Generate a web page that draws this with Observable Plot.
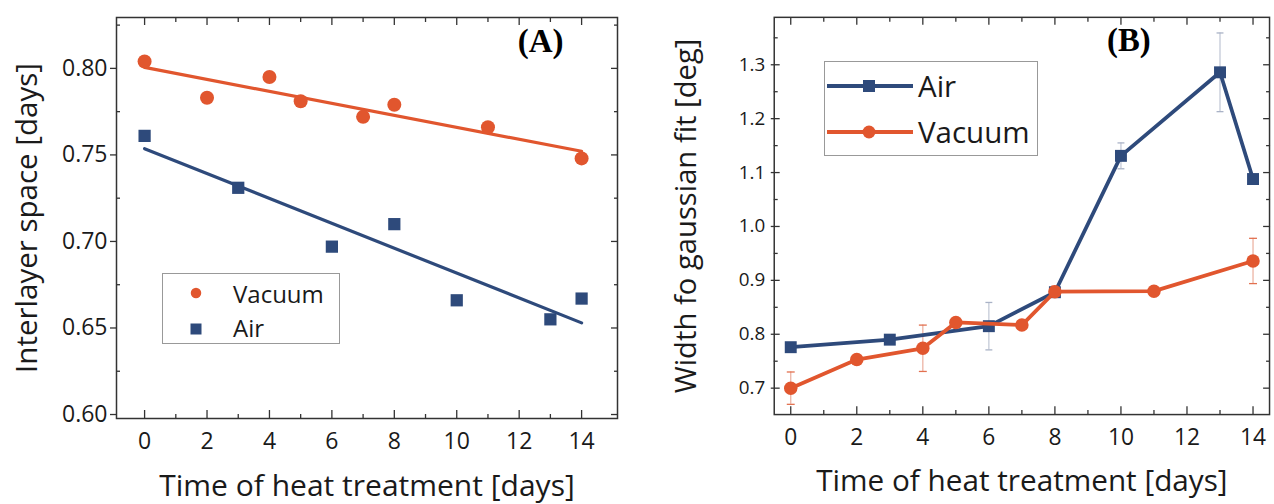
<!DOCTYPE html>
<html><head><meta charset="utf-8">
<script src="https://cdn.jsdelivr.net/npm/d3@7"></script>
<script src="https://cdn.jsdelivr.net/npm/@observablehq/plot@0.6"></script>
<style>
html,body{margin:0;padding:0;background:#fff;overflow:hidden;}
#wrap{position:relative;width:1274px;height:504px;overflow:hidden;}
.panel{position:absolute;top:0;}
.legend{position:absolute;}
</style></head>
<body><div id="wrap"></div>
<script>
// ---------- data ----------
const daysVacA = [0, 2, 4, 5, 7, 8, 11, 14];
const spaceVacA = [0.804, 0.783, 0.795, 0.781, 0.772, 0.779, 0.766, 0.748];
const daysAirA = [0, 3, 6, 8, 10, 13, 14];
const spaceAirA = [0.761, 0.731, 0.697, 0.710, 0.666, 0.655, 0.667];

const daysAirB = [0, 3, 6, 8, 10, 13, 14];
const widthAirB = [0.776, 0.790, 0.815, 0.878, 1.131, 1.286, 1.088];
const errAirB = [0, 0, 0.044, 0, 0.024, 0.073, 0];
const daysVacB = [0, 2, 4, 5, 7, 8, 11, 14];
const widthVacB = [0.700, 0.753, 0.774, 0.822, 0.817, 0.879, 0.880, 0.936];
const errVacB = [0.030, 0, 0.043, 0, 0, 0.010, 0, 0.042];

const xTicksMajor = [0, 2, 4, 6, 8, 10, 12, 14];
const xTicksMinor = [1, 3, 5, 7, 9, 11, 13];
const yTicksA = [0.60, 0.65, 0.70, 0.75, 0.80];
const yMinorA = [0.625, 0.675, 0.725, 0.775, 0.825];
const yTicksB = [0.7, 0.8, 0.9, 1.0, 1.1, 1.2, 1.3];
const yMinorB = [0.75, 0.85, 0.95, 1.05, 1.15, 1.25, 1.35];

const seriesNames = ["Vacuum", "Air"];
const xTitle = "Time of heat treatment [days]";
const yTitleA = "Interlayer space [days]";
const yTitleB = "Width fo gaussian fit [deg]";
const panelLabels = ["(A)", "(B)"];

// ---------- styles ----------
const ORANGE = "#E1562E";
const NAVY = "#2E4A7B";
const INK = "#1a1a1a";
const FRAME = "#333";
const FONT = '"Open Sans", sans-serif';

const vacA = daysVacA.map((d, i) => ({day: d, v: spaceVacA[i]}));
const airA = daysAirA.map((d, i) => ({day: d, v: spaceAirA[i]}));
const airB = daysAirB.map((d, i) => ({day: d, v: widthAirB[i], e: errAirB[i]}));
const vacB = daysVacB.map((d, i) => ({day: d, v: widthVacB[i], e: errVacB[i]}));

const cap = (w) => ({draw(ctx) { ctx.moveTo(-w, 0); ctx.lineTo(w, 0); }});

function tickMarks({leftMajor, leftMinor, fmt, yTickFont}) {
  const tk = {stroke: FRAME, strokeWidth: 1.3, tickFormat: () => "", label: null};
  return [
    Plot.axisX({...tk, anchor: "bottom", ticks: xTicksMajor, tickSize: 8, dy: -8}),
    Plot.axisX({...tk, anchor: "bottom", ticks: xTicksMinor, tickSize: 4, dy: -4}),
    Plot.axisX({...tk, anchor: "top", ticks: xTicksMajor, tickSize: 7, dy: 7}),
    Plot.axisX({...tk, anchor: "top", ticks: xTicksMinor, tickSize: 4, dy: 4}),
    Plot.axisY({...tk, anchor: "left", ticks: leftMajor.ticks, tickSize: leftMajor.size, dx: leftMajor.dx}),
    Plot.axisY({...tk, anchor: "left", ticks: leftMinor, tickSize: 4, dx: 4}),
    Plot.axisY({...tk, anchor: "right", ticks: leftMajor.ticks, tickSize: 7, dx: -7}),
    Plot.axisY({...tk, anchor: "right", ticks: leftMinor, tickSize: 4, dx: -4}),
    Plot.axisX({anchor: "bottom", ticks: xTicksMajor, tickSize: 0, tickPadding: 14, fontSize: 23, fill: INK, label: null}),
    Plot.axisY({anchor: "left", ticks: leftMajor.ticks, tickSize: 0, tickPadding: 9, fontSize: yTickFont, fill: INK, tickFormat: d3.format(fmt), label: null}),
    Plot.frame({stroke: FRAME, strokeWidth: 1.5})
  ];
}

function titles(yTitle, panelLabel, labDx) {
  return [
    Plot.text([xTitle], {text: d => d, frameAnchor: "bottom", textAnchor: "middle", dy: 77, lineAnchor: "bottom", fontSize: 30, fill: INK}),
    Plot.text([yTitle], {text: d => d, frameAnchor: "left", textAnchor: "middle", dx: -100, rotate: -90, lineAnchor: "top", fontSize: 29.5, fill: INK}),
    Plot.text([panelLabel], {text: d => d, frameAnchor: "top-right", dx: labDx, dy: 11, lineAnchor: "top", textAnchor: "end",
      fontFamily: '"Liberation Serif", "Times New Roman", serif', fontWeight: "bold", fontSize: 33, fill: "#000"})
  ];
}

const style = {fontFamily: FONT, fontSize: "23px", color: INK, background: "transparent", overflow: "visible"};

const chartA = Plot.plot({
  width: 640, height: 504,
  marginLeft: 116, marginRight: 23, marginTop: 17, marginBottom: 86,
  x: {domain: [-0.9, 15.15]},
  y: {domain: [0.5977, 0.8294]},
  style,
  marks: [
    Plot.linearRegressionY(vacA, {x: "day", y: "v", stroke: ORANGE, strokeWidth: 3.2, ci: 0}),
    Plot.linearRegressionY(airA, {x: "day", y: "v", stroke: NAVY, strokeWidth: 3.2, ci: 0}),
    Plot.dot(vacA, {x: "day", y: "v", r: 7, fill: ORANGE, symbol: "circle"}),
    Plot.dot(airA, {x: "day", y: "v", r: 6.9, fill: NAVY, symbol: "square"}),
    ...tickMarks({leftMajor: {ticks: yTicksA, size: 6, dx: 0}, leftMinor: yMinorA, fmt: ".2f", yTickFont: 23}),
    ...titles(yTitleA, panelLabels[0], -54)
  ]
});

const airErr = airB.filter(d => d.e > 0);
const vacErr = vacB.filter(d => d.e > 0);
const chartB = Plot.plot({
  width: 640, height: 504,
  marginLeft: 135, marginRight: 5, marginTop: 17, marginBottom: 86,
  x: {domain: [-0.5, 14.5]},
  y: {domain: [0.651, 1.388]},
  style,
  marks: [
    Plot.ruleX(airErr, {x: "day", y1: d => d.v - d.e, y2: d => d.v + d.e, stroke: "#c3c9d7", strokeWidth: 1.3}),
    Plot.dot(airErr, {x: "day", y: d => d.v + d.e, symbol: cap(3.5), r: 4, stroke: "#a9b2c6", fill: "none", strokeWidth: 1.3}),
    Plot.dot(airErr, {x: "day", y: d => d.v - d.e, symbol: cap(3.5), r: 4, stroke: "#a9b2c6", fill: "none", strokeWidth: 1.3}),
    Plot.ruleX(vacErr, {x: "day", y1: d => d.v - d.e, y2: d => d.v + d.e, stroke: "#ecb3a3", strokeWidth: 1.3}),
    Plot.dot(vacErr, {x: "day", y: d => d.v + d.e, symbol: cap(4), r: 4, stroke: "#e2704f", fill: "none", strokeWidth: 1.3}),
    Plot.dot(vacErr, {x: "day", y: d => d.v - d.e, symbol: cap(4), r: 4, stroke: "#e2704f", fill: "none", strokeWidth: 1.3}),
    Plot.line(airB, {x: "day", y: "v", stroke: NAVY, strokeWidth: 3.8}),
    Plot.dot(airB, {x: "day", y: "v", r: 6.8, fill: NAVY, symbol: "square"}),
    Plot.line(vacB, {x: "day", y: "v", stroke: ORANGE, strokeWidth: 3.8}),
    Plot.dot(vacB, {x: "day", y: "v", r: 6.8, fill: ORANGE, symbol: "circle"}),
    ...tickMarks({leftMajor: {ticks: yTicksB, size: 9, dx: 6}, leftMinor: yMinorB, fmt: ".1f", yTickFont: 19}),
    ...titles(yTitleB, panelLabels[1], -120)
  ]
});

const wrap = document.getElementById("wrap");
const pA = document.createElement("div"); pA.className = "panel"; pA.style.left = "0px"; pA.appendChild(chartA);
const pB = document.createElement("div"); pB.className = "panel"; pB.style.left = "640px"; pB.appendChild(chartB);
wrap.appendChild(pA); wrap.appendChild(pB);

// ---------- legends ----------
function legend(left, top, w, h, rows, withLine, fontSize) {
  const svg = d3.select(wrap).append("svg").attr("class", "legend")
    .style("left", left + "px").style("top", top + "px")
    .attr("width", w).attr("height", h);
  svg.append("rect").attr("x", 0.5).attr("y", 0.5).attr("width", w - 1).attr("height", h - 1)
    .attr("fill", "#fff").attr("stroke", "#999").attr("stroke-width", 1);
  rows.forEach(r => {
    if (withLine) svg.append("line").attr("x1", r.lx1).attr("x2", r.lx2).attr("y1", r.cy).attr("y2", r.cy)
      .attr("stroke", r.color).attr("stroke-width", 3.8);
    if (r.sym === "circle") svg.append("circle").attr("cx", r.cx).attr("cy", r.cy).attr("r", r.size / 2).attr("fill", r.color);
    else svg.append("rect").attr("x", r.cx - r.size / 2).attr("y", r.cy - r.size / 2).attr("width", r.size).attr("height", r.size).attr("fill", r.color);
    svg.append("text").attr("x", r.tx).attr("y", r.ty).text(r.name)
      .attr("font-family", FONT).attr("font-size", fontSize).attr("fill", INK);
  });
}
legend(162, 273, 178, 71, [
  {name: seriesNames[0], sym: "circle", color: ORANGE, cx: 34, cy: 20, size: 10.5, tx: 71, ty: 30},
  {name: seriesNames[1], sym: "square", color: NAVY, cx: 34, cy: 56, size: 11, tx: 71, ty: 64}
], false, 24);
legend(824, 61, 214, 95, [
  {name: seriesNames[1], sym: "square", color: NAVY, cx: 45, cy: 25, size: 12, lx1: 3, lx2: 89, tx: 94, ty: 36},
  {name: seriesNames[0], sym: "circle", color: ORANGE, cx: 45, cy: 71, size: 13, lx1: 3, lx2: 89, tx: 94, ty: 82}
], true, 29.5);
</script>
</body></html>
